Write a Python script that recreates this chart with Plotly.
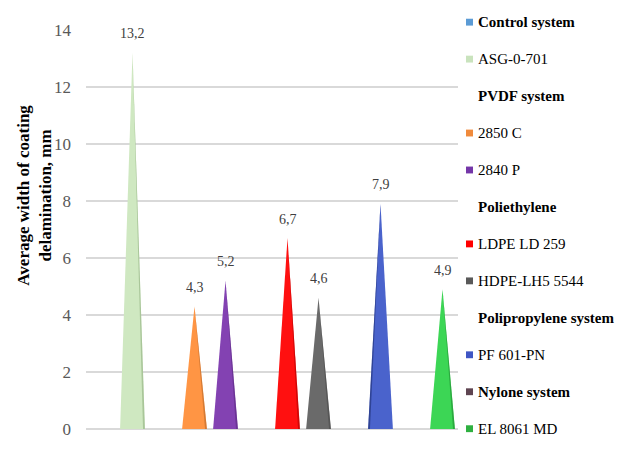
import plotly.graph_objects as go

# ---- data ----
series = ["Control system", "ASG-0-701", "PVDF system", "2850 C", "2840 P",
          "Poliethylene", "LDPE LD 259", "HDPE-LH5 5544", "Polipropylene system",
          "PF 601-PN", "Nylone system", "EL 8061 MD"]
values = [None, 13.2, None, 4.3, 5.2, None, 6.7, 4.6, None, 7.9, None, 4.9]
is_header = [True, False, True, False, False, True, False, False, True, False, True, False]
fill_colors = [None, "#CFE8C1", None, "#FF9544", "#8342B2", None, "#FF1010",
               "#6A6A6A", None, "#4A63CC", None, "#3CD655"]
edge_colors = [None, "#8FAF7F", None, "#B8692C", "#5A2A80", None, "#B00000",
               "#4A4A4A", None, "#1E2E70", None, "#208A30"]
legend_colors = ["#5B9BD5", "#C9E3BD", None, "#F08A3C", "#7436A8", None, "#FF0000",
                 "#595959", None, "#3F56C4", "#5E4451", "#2EB040"]
y_ticks = [0, 2, 4, 6, 8, 10, 12, 14]

SERIF = "'Liberation Serif', 'Times New Roman', Times, serif"

W, H = 629, 451
L, R, T, B = 86, 171, 30, 14
pw, ph = W - L - R, H - T - B

fig = go.Figure()
half = 0.4
for i, (name, v) in enumerate(zip(series, values)):
    if v is None:
        continue
    fig.add_trace(go.Scatter(
        x=[i - half, i, i + half, i - half], y=[0, v, 0, 0],
        mode="lines", fill="toself", fillcolor=fill_colors[i],
        line=dict(width=0, color=fill_colors[i]), showlegend=False, hoverinfo="skip"))
    # subtle 3D edge
    if name == "PF 601-PN":
        ex = [i - half, i, i - half + 0.06, i - half]
    else:
        ex = [i + half - 0.06, i, i + half, i + half - 0.06]
    fig.add_trace(go.Scatter(
        x=ex, y=[0, v, 0, 0], mode="lines", fill="toself",
        fillcolor=edge_colors[i], opacity=0.6,
        line=dict(width=0, color=edge_colors[i]), showlegend=False, hoverinfo="skip"))
    fig.add_annotation(x=i, y=v, xref="x", yref="y",
                       text=f"{v:.1f}".replace(".", ","), showarrow=False,
                       yshift=19, font=dict(family=SERIF, size=14, color="#404040"))

# custom legend
for i, name in enumerate(series):
    py = 22 + i * 37.7
    yp = (H - B - py) / ph
    col = legend_colors[i]
    if col:
        fig.add_shape(type="rect", xref="paper", yref="paper",
                      x0=(466 - L) / pw, x1=(473 - L) / pw,
                      y0=yp - 3.5 / ph, y1=yp + 3.5 / ph,
                      fillcolor=col, line=dict(width=0))
    txt = f"<b>{name}</b>" if is_header[i] else name
    fig.add_annotation(x=(476 - L) / pw, y=yp, xref="paper", yref="paper",
                       xanchor="left", yanchor="middle", text=txt, showarrow=False,
                       font=dict(family=SERIF, size=15, color="#000000"))

# y-axis title
fig.add_annotation(x=(35 - L) / pw, y=(H - B - 199) / ph, xref="paper", yref="paper",
                   text="<b>Average width of coating<br>delamination, mm</b>",
                   textangle=-90, showarrow=False, xanchor="center", yanchor="middle",
                   font=dict(family=SERIF, size=17, color="#000000"))

fig.update_layout(
    width=W, height=H, margin=dict(l=L, r=R, t=T, b=B),
    paper_bgcolor="white", plot_bgcolor="white", showlegend=False,
    font=dict(family=SERIF),
    xaxis=dict(range=[-0.5, 11.5], showticklabels=False, showgrid=False,
               zeroline=False, showline=False, ticks=""),
    yaxis=dict(range=[0, 14], tickvals=y_ticks, showgrid=True, gridcolor="#D9D9D9",
               gridwidth=1.5, zeroline=True, zerolinecolor="#D9D9D9", zerolinewidth=1.5,
               showline=False, ticks="", ticklabelstandoff=14,
               tickfont=dict(family=SERIF, size=17, color="#595959")),
)

fig.write_html("out.html")
